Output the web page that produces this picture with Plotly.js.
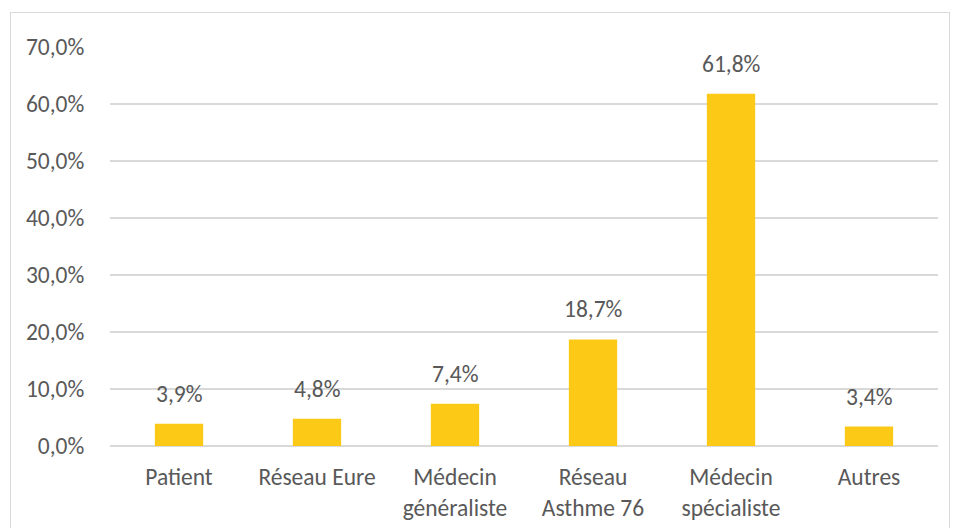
<!DOCTYPE html>
<html><head><meta charset="utf-8">
<script src="https://cdn.plot.ly/plotly-3.0.1.min.js"></script>
<style>
html,body{margin:0;padding:0;background:#fff;}
#wrap{position:relative;width:962px;height:528px;overflow:hidden;}
#frame{position:absolute;left:10px;top:12px;width:940px;height:540px;border:1.5px solid #d9d9d9;box-sizing:border-box;pointer-events:none;}
#chart{position:absolute;left:0;top:0;width:962px;height:528px;}
</style></head>
<body>
<div id="wrap"><div id="chart"></div><div id="frame"></div></div>
<script>
const categories = ["Patient", "Réseau Eure", "Médecin<br>généraliste", "Réseau<br>Asthme 76", "Médecin<br>spécialiste", "Autres"];
const values = [3.9, 4.8, 7.4, 18.7, 61.8, 3.4];
const yTicks = [0, 10, 20, 30, 40, 50, 60, 70];
const yTickLabels = ["0,0%", "10,0%", "20,0%", "30,0%", "40,0%", "50,0%", "60,0%", "70,0%"];

const font = "Calibri, Carlito, 'Open Sans', 'Noto Sans', sans-serif";
const textColor = "#595959";
const fs = 23.5;

const trace = {
  type: "bar",
  x: categories,
  y: values,
  marker: {color: "#FCC917"},
  hoverinfo: "none"
};

const annotations = categories.map((c, i) => ({
  x: c, y: values[i], xref: "x", yref: "y",
  text: values[i].toFixed(1).replace(".", ",") + "%",
  showarrow: false, yanchor: "bottom", yshift: 14,
  font: {family: font, size: fs, color: textColor}
}));

const layout = {
  width: 962, height: 528,
  margin: {l: 110, r: 24, t: 47, b: 82},
  paper_bgcolor: "rgba(0,0,0,0)",
  plot_bgcolor: "#fff",
  separators: ", ",
  bargap: 0.65,
  showlegend: false,
  font: {family: font, size: fs, color: textColor},
  xaxis: {
    type: "category",
    showgrid: false, zeroline: false, showline: false,
    ticks: "outside", ticklen: 10, tickcolor: "rgba(0,0,0,0)",
    tickfont: {family: font, size: fs, color: textColor}
  },
  yaxis: {
    range: [0, 70],
    tickvals: yTicks,
    ticktext: yTickLabels,
    showgrid: true, gridcolor: "#d9d9d9", gridwidth: 1.5,
    zeroline: true, zerolinecolor: "#d9d9d9", zerolinewidth: 1.5,
    showline: false,
    ticks: "outside", ticklen: 20, tickcolor: "rgba(0,0,0,0)",
    tickfont: {family: font, size: fs, color: textColor}
  },
  annotations: annotations
};

Plotly.newPlot("chart", [trace], layout, {displayModeBar: false, staticPlot: true});
</script>
</body></html>
